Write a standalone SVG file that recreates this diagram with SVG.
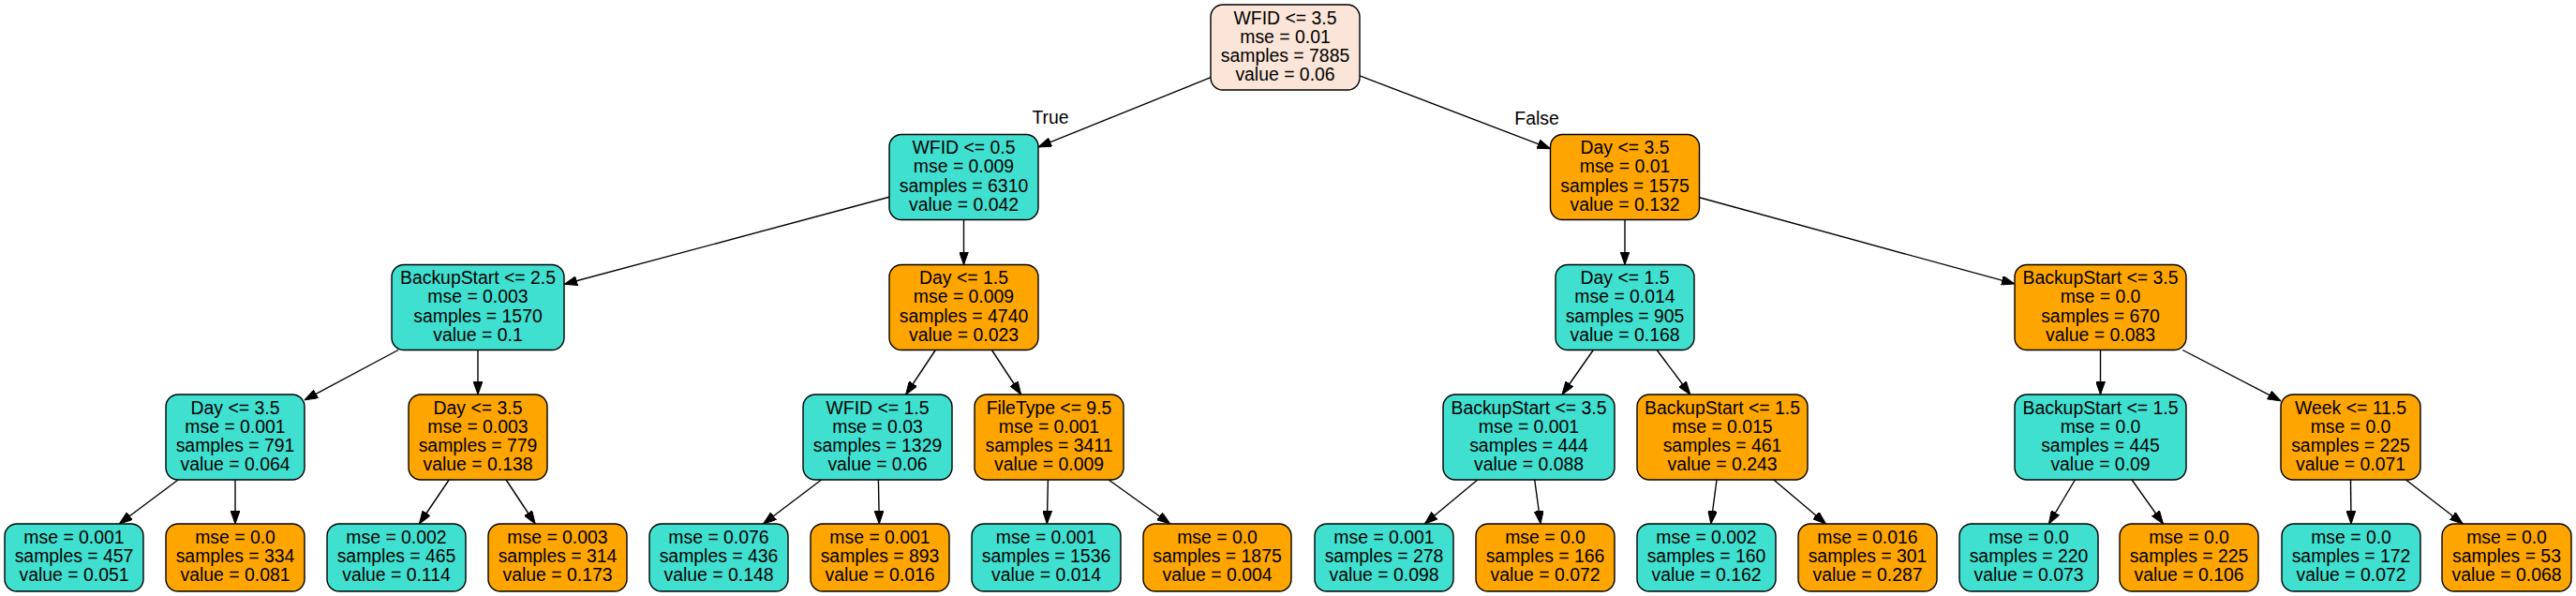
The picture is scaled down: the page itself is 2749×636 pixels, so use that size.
<svg xmlns="http://www.w3.org/2000/svg" width="2749" height="636" viewBox="0 0 2749 636">
<style>
.n rect{stroke:#000;stroke-width:1.4}
.c rect{fill:#40E0D0}
.o rect{fill:#FFA500}
.r rect{fill:#FBE5D8}
text{font-family:"Liberation Sans",Arial,Helvetica,sans-serif;font-size:19.4px;text-anchor:middle;fill:#000}
#edges line{stroke:#000;stroke-width:1.4;marker-end:url(#ah)}
</style>
<defs>
<marker id="ah" viewBox="0 0 14 10" refX="14" refY="5" markerWidth="14" markerHeight="10" markerUnits="userSpaceOnUse" orient="auto">
<path d="M0,0 L14,5 L0,10 z" fill="#000" stroke="#000" stroke-width="1"/>
</marker>
</defs>
<rect width="2749" height="636" fill="#fff"/>
<g id="edges">
<line x1="1292" y1="82.6" x2="1108" y2="156.9"/>
<line x1="1451" y1="80.9" x2="1654.5" y2="158.6"/>
<line x1="949" y1="210.3" x2="602" y2="303.3"/>
<line x1="1028.5" y1="234.5" x2="1028.5" y2="282.5"/>
<line x1="1734" y1="234.5" x2="1734" y2="282.5"/>
<line x1="1813.5" y1="210.8" x2="2150" y2="302.9"/>
<line x1="424.9" y1="373.5" x2="325" y2="426.9"/>
<line x1="510" y1="373.5" x2="510" y2="421"/>
<line x1="998.3" y1="373.5" x2="966.7" y2="421"/>
<line x1="1058.4" y1="373.5" x2="1089.6" y2="421"/>
<line x1="1700.3" y1="373.5" x2="1667" y2="421"/>
<line x1="1768.2" y1="373.5" x2="1803.8" y2="421"/>
<line x1="2241.5" y1="373.5" x2="2241.5" y2="421"/>
<line x1="2329.2" y1="373.5" x2="2434" y2="427.9"/>
<line x1="190.1" y1="512" x2="127.2" y2="559"/>
<line x1="251" y1="512" x2="251" y2="559"/>
<line x1="479.2" y1="512" x2="447.4" y2="559"/>
<line x1="540.1" y1="512" x2="571.2" y2="559"/>
<line x1="876.5" y1="512" x2="814.5" y2="559"/>
<line x1="937.4" y1="512" x2="938.3" y2="559"/>
<line x1="1118.4" y1="512" x2="1117.3" y2="559"/>
<line x1="1183.1" y1="512" x2="1248.7" y2="559"/>
<line x1="1576.8" y1="512" x2="1520.3" y2="559"/>
<line x1="1637.7" y1="512" x2="1644.1" y2="559"/>
<line x1="1832" y1="512" x2="1825.8" y2="559"/>
<line x1="1892.9" y1="512" x2="1948.5" y2="559"/>
<line x1="2214.4" y1="512" x2="2186.4" y2="559"/>
<line x1="2275" y1="512" x2="2308.5" y2="559"/>
<line x1="2508.5" y1="512" x2="2509" y2="559"/>
<line x1="2567.5" y1="512" x2="2628.3" y2="559"/>
<text x="1121" y="132">True</text>
<text x="1640" y="133">False</text>
</g>
<g id="n0" class="n r"><rect x="1292" y="5" width="159" height="91" rx="13"/><text x="1371.5" y="25.5">WFID &lt;= 3.5<tspan x="1371.5" dy="20.3">mse = 0.01</tspan><tspan x="1371.5" dy="20.3">samples = 7885</tspan><tspan x="1371.5" dy="20.3">value = 0.06</tspan></text></g>
<g id="n1" class="n c"><rect x="949" y="143.5" width="159" height="91" rx="13"/><text x="1028.5" y="164">WFID &lt;= 0.5<tspan x="1028.5" dy="20.3">mse = 0.009</tspan><tspan x="1028.5" dy="20.3">samples = 6310</tspan><tspan x="1028.5" dy="20.3">value = 0.042</tspan></text></g>
<g id="n2" class="n o"><rect x="1654.5" y="143.5" width="159" height="91" rx="13"/><text x="1734" y="164">Day &lt;= 3.5<tspan x="1734" dy="20.3">mse = 0.01</tspan><tspan x="1734" dy="20.3">samples = 1575</tspan><tspan x="1734" dy="20.3">value = 0.132</tspan></text></g>
<g id="n3" class="n c"><rect x="418" y="282.5" width="184" height="91" rx="13"/><text x="510" y="303">BackupStart &lt;= 2.5<tspan x="510" dy="20.3">mse = 0.003</tspan><tspan x="510" dy="20.3">samples = 1570</tspan><tspan x="510" dy="20.3">value = 0.1</tspan></text></g>
<g id="n4" class="n o"><rect x="949" y="282.5" width="159" height="91" rx="13"/><text x="1028.5" y="303">Day &lt;= 1.5<tspan x="1028.5" dy="20.3">mse = 0.009</tspan><tspan x="1028.5" dy="20.3">samples = 4740</tspan><tspan x="1028.5" dy="20.3">value = 0.023</tspan></text></g>
<g id="n5" class="n c"><rect x="1660" y="282.5" width="148" height="91" rx="13"/><text x="1734" y="303">Day &lt;= 1.5<tspan x="1734" dy="20.3">mse = 0.014</tspan><tspan x="1734" dy="20.3">samples = 905</tspan><tspan x="1734" dy="20.3">value = 0.168</tspan></text></g>
<g id="n6" class="n o"><rect x="2150" y="282.5" width="183" height="91" rx="13"/><text x="2241.5" y="303">BackupStart &lt;= 3.5<tspan x="2241.5" dy="20.3">mse = 0.0</tspan><tspan x="2241.5" dy="20.3">samples = 670</tspan><tspan x="2241.5" dy="20.3">value = 0.083</tspan></text></g>
<g id="n7" class="n c"><rect x="177" y="421" width="148" height="91" rx="13"/><text x="251" y="441.5">Day &lt;= 3.5<tspan x="251" dy="20.3">mse = 0.001</tspan><tspan x="251" dy="20.3">samples = 791</tspan><tspan x="251" dy="20.3">value = 0.064</tspan></text></g>
<g id="n8" class="n o"><rect x="436" y="421" width="148" height="91" rx="13"/><text x="510" y="441.5">Day &lt;= 3.5<tspan x="510" dy="20.3">mse = 0.003</tspan><tspan x="510" dy="20.3">samples = 779</tspan><tspan x="510" dy="20.3">value = 0.138</tspan></text></g>
<g id="n9" class="n c"><rect x="857" y="421" width="159" height="91" rx="13"/><text x="936.5" y="441.5">WFID &lt;= 1.5<tspan x="936.5" dy="20.3">mse = 0.03</tspan><tspan x="936.5" dy="20.3">samples = 1329</tspan><tspan x="936.5" dy="20.3">value = 0.06</tspan></text></g>
<g id="n10" class="n o"><rect x="1040" y="421" width="159" height="91" rx="13"/><text x="1119.5" y="441.5">FileType &lt;= 9.5<tspan x="1119.5" dy="20.3">mse = 0.001</tspan><tspan x="1119.5" dy="20.3">samples = 3411</tspan><tspan x="1119.5" dy="20.3">value = 0.009</tspan></text></g>
<g id="n11" class="n c"><rect x="1540" y="421" width="183" height="91" rx="13"/><text x="1631.5" y="441.5">BackupStart &lt;= 3.5<tspan x="1631.5" dy="20.3">mse = 0.001</tspan><tspan x="1631.5" dy="20.3">samples = 444</tspan><tspan x="1631.5" dy="20.3">value = 0.088</tspan></text></g>
<g id="n12" class="n o"><rect x="1747" y="421" width="182" height="91" rx="13"/><text x="1838" y="441.5">BackupStart &lt;= 1.5<tspan x="1838" dy="20.3">mse = 0.015</tspan><tspan x="1838" dy="20.3">samples = 461</tspan><tspan x="1838" dy="20.3">value = 0.243</tspan></text></g>
<g id="n13" class="n c"><rect x="2150" y="421" width="183" height="91" rx="13"/><text x="2241.5" y="441.5">BackupStart &lt;= 1.5<tspan x="2241.5" dy="20.3">mse = 0.0</tspan><tspan x="2241.5" dy="20.3">samples = 445</tspan><tspan x="2241.5" dy="20.3">value = 0.09</tspan></text></g>
<g id="n14" class="n o"><rect x="2434" y="421" width="149" height="91" rx="13"/><text x="2508.5" y="441.5">Week &lt;= 11.5<tspan x="2508.5" dy="20.3">mse = 0.0</tspan><tspan x="2508.5" dy="20.3">samples = 225</tspan><tspan x="2508.5" dy="20.3">value = 0.071</tspan></text></g>
<g id="l1" class="n c"><rect x="5" y="559" width="148" height="72" rx="13"/><text x="79" y="580">mse = 0.001<tspan x="79" dy="20">samples = 457</tspan><tspan x="79" dy="20">value = 0.051</tspan></text></g>
<g id="l2" class="n o"><rect x="177" y="559" width="148" height="72" rx="13"/><text x="251" y="580">mse = 0.0<tspan x="251" dy="20">samples = 334</tspan><tspan x="251" dy="20">value = 0.081</tspan></text></g>
<g id="l3" class="n c"><rect x="349" y="559" width="148" height="72" rx="13"/><text x="423" y="580">mse = 0.002<tspan x="423" dy="20">samples = 465</tspan><tspan x="423" dy="20">value = 0.114</tspan></text></g>
<g id="l4" class="n o"><rect x="521" y="559" width="148" height="72" rx="13"/><text x="595" y="580">mse = 0.003<tspan x="595" dy="20">samples = 314</tspan><tspan x="595" dy="20">value = 0.173</tspan></text></g>
<g id="l5" class="n c"><rect x="693" y="559" width="148" height="72" rx="13"/><text x="767" y="580">mse = 0.076<tspan x="767" dy="20">samples = 436</tspan><tspan x="767" dy="20">value = 0.148</tspan></text></g>
<g id="l6" class="n o"><rect x="865" y="559" width="148" height="72" rx="13"/><text x="939" y="580">mse = 0.001<tspan x="939" dy="20">samples = 893</tspan><tspan x="939" dy="20">value = 0.016</tspan></text></g>
<g id="l7" class="n c"><rect x="1037" y="559" width="159" height="72" rx="13"/><text x="1116.5" y="580">mse = 0.001<tspan x="1116.5" dy="20">samples = 1536</tspan><tspan x="1116.5" dy="20">value = 0.014</tspan></text></g>
<g id="l8" class="n o"><rect x="1220" y="559" width="158" height="72" rx="13"/><text x="1299" y="580">mse = 0.0<tspan x="1299" dy="20">samples = 1875</tspan><tspan x="1299" dy="20">value = 0.004</tspan></text></g>
<g id="l9" class="n c"><rect x="1403" y="559" width="148" height="72" rx="13"/><text x="1477" y="580">mse = 0.001<tspan x="1477" dy="20">samples = 278</tspan><tspan x="1477" dy="20">value = 0.098</tspan></text></g>
<g id="l10" class="n o"><rect x="1575" y="559" width="148" height="72" rx="13"/><text x="1649" y="580">mse = 0.0<tspan x="1649" dy="20">samples = 166</tspan><tspan x="1649" dy="20">value = 0.072</tspan></text></g>
<g id="l11" class="n c"><rect x="1747" y="559" width="148" height="72" rx="13"/><text x="1821" y="580">mse = 0.002<tspan x="1821" dy="20">samples = 160</tspan><tspan x="1821" dy="20">value = 0.162</tspan></text></g>
<g id="l12" class="n o"><rect x="1919" y="559" width="148" height="72" rx="13"/><text x="1993" y="580">mse = 0.016<tspan x="1993" dy="20">samples = 301</tspan><tspan x="1993" dy="20">value = 0.287</tspan></text></g>
<g id="l13" class="n c"><rect x="2091" y="559" width="148" height="72" rx="13"/><text x="2165" y="580">mse = 0.0<tspan x="2165" dy="20">samples = 220</tspan><tspan x="2165" dy="20">value = 0.073</tspan></text></g>
<g id="l14" class="n o"><rect x="2262" y="559" width="148" height="72" rx="13"/><text x="2336" y="580">mse = 0.0<tspan x="2336" dy="20">samples = 225</tspan><tspan x="2336" dy="20">value = 0.106</tspan></text></g>
<g id="l15" class="n c"><rect x="2435" y="559" width="148" height="72" rx="13"/><text x="2509" y="580">mse = 0.0<tspan x="2509" dy="20">samples = 172</tspan><tspan x="2509" dy="20">value = 0.072</tspan></text></g>
<g id="l16" class="n o"><rect x="2606" y="559" width="138" height="72" rx="13"/><text x="2675" y="580">mse = 0.0<tspan x="2675" dy="20">samples = 53</tspan><tspan x="2675" dy="20">value = 0.068</tspan></text></g>
</svg>
